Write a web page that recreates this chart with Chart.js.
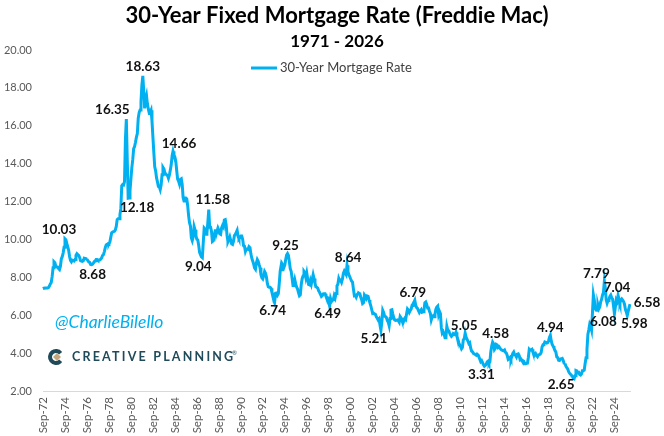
<!DOCTYPE html>
<html>
<head>
<meta charset="utf-8">
<script src="https://cdn.jsdelivr.net/npm/chart.js@4.4.1/dist/chart.umd.min.js"></script>
<style>
  html, body { margin: 0; padding: 0; background: #fff; }
  #wrap { width: 664px; height: 436px; }
</style>
</head>
<body>
<div id="wrap"><canvas id="rateChart" width="664" height="436"></canvas></div>
<script>
// Monthly 30-year fixed rate (%); first value is Sep-72
const startYear = 1972;
const startMonth = 8; // Sep (0-based)

const rates1970s = [
  7.42, 7.43, 7.44, 7.44,
  7.44, 7.44, 7.46, 7.54, 7.65, 7.73, 8.05, 8.50, 8.82, 8.77, 8.58, 8.54,
  8.54, 8.46, 8.41, 8.58, 8.97, 9.09, 9.28, 9.59, 10.03, 9.98, 9.79, 9.62,
  9.43, 9.10, 8.89, 8.82, 8.91, 8.89, 8.86, 8.94, 9.16, 9.25, 9.20, 9.16,
  9.05, 8.88, 8.86, 8.84, 8.87, 9.01, 8.99, 8.98, 8.95, 8.88, 8.81, 8.79,
  8.68, 8.67, 8.69, 8.75, 8.83, 8.86, 8.94, 8.94, 8.90, 8.92, 8.92, 8.96,
  9.02, 9.15, 9.20, 9.36, 9.57, 9.71, 9.74, 9.78, 9.76, 9.86, 10.11, 10.35,
  10.39, 10.41, 10.43, 10.50, 10.69, 11.04, 11.09, 11.09, 11.30, 11.64, 12.83, 12.90
];
const rates1980s = [
  12.88, 13.04, 15.28, 16.35, 14.26, 12.18, 12.19, 12.56, 13.20, 13.79, 14.21, 14.79,
  14.90, 15.13, 15.40, 15.58, 16.40, 16.70, 16.83, 17.28, 18.16, 18.63, 17.83, 16.92,
  17.40, 17.60, 17.16, 16.89, 16.68, 16.70, 16.82, 16.27, 15.43, 14.61, 13.83, 13.62,
  13.25, 13.04, 12.80, 12.78, 12.63, 12.87, 13.42, 13.81, 13.73, 13.54, 13.44, 13.42,
  13.37, 13.23, 13.39, 13.65, 13.94, 14.42, 14.66, 14.47, 14.35, 14.13, 13.64, 13.18,
  13.08, 12.92, 13.17, 13.20, 12.91, 12.22, 12.03, 12.19, 12.19, 12.14, 11.78, 11.26,
  10.88, 10.71, 10.08, 9.94, 10.14, 10.68, 10.51, 10.20, 10.01, 9.98, 9.70, 9.32,
  9.20, 9.08, 9.04, 9.83, 10.60, 10.54, 10.28, 10.33, 10.89, 11.58, 10.65, 10.65,
  10.43, 9.89, 9.93, 10.20, 10.46, 10.46, 10.43, 10.60, 10.48, 10.30, 10.27, 10.61,
  10.73, 10.65, 11.03, 11.05, 10.77, 10.20, 9.88, 9.99, 10.13, 9.95, 9.77, 9.74
];
const rates1990s = [
  9.90, 10.20, 10.27, 10.37, 10.48, 10.16, 10.04, 10.10, 10.18, 10.18, 10.01, 9.67,
  9.64, 9.37, 9.50, 9.49, 9.47, 9.62, 9.58, 9.24, 9.01, 8.86, 8.71, 8.50,
  8.43, 8.76, 8.94, 8.85, 8.67, 8.51, 8.13, 7.98, 7.92, 8.09, 8.31, 8.22,
  8.02, 7.68, 7.50, 7.47, 7.47, 7.42, 7.21, 7.11, 6.92, 6.74, 7.16, 7.17,
  7.06, 7.15, 7.68, 8.32, 8.60, 8.40, 8.61, 8.51, 8.64, 8.93, 9.17, 9.25,
  9.15, 8.83, 8.46, 8.32, 7.96, 7.57, 7.61, 7.86, 7.64, 7.48, 7.38, 7.20,
  7.03, 7.08, 7.62, 7.93, 8.07, 8.32, 8.25, 8.00, 8.23, 7.92, 7.62, 7.60,
  7.82, 7.65, 7.90, 8.14, 7.94, 7.69, 7.50, 7.48, 7.43, 7.29, 7.21, 7.10,
  6.99, 7.04, 7.13, 7.14, 7.14, 7.00, 6.95, 6.92, 6.72, 6.49, 6.87, 6.72,
  6.79, 6.81, 7.04, 6.92, 7.15, 7.55, 7.63, 7.94, 7.82, 7.85, 7.74, 7.91
];
const rates2000s = [
  8.21, 8.33, 8.24, 8.15, 8.64, 8.29, 8.15, 8.03, 7.91, 7.80, 7.75, 7.38,
  7.03, 7.05, 6.95, 7.08, 7.15, 7.16, 7.13, 6.95, 6.82, 6.62, 6.66, 7.07,
  7.00, 6.89, 7.01, 6.99, 6.81, 6.65, 6.49, 6.29, 6.09, 6.11, 6.07, 6.05,
  5.92, 5.84, 5.75, 5.81, 5.48, 5.21, 5.63, 6.26, 6.15, 5.95, 5.93, 5.88,
  5.71, 5.64, 5.45, 5.83, 6.27, 6.29, 6.06, 5.87, 5.75, 5.72, 5.73, 5.75,
  5.71, 5.63, 5.93, 5.86, 5.72, 5.58, 5.70, 5.82, 5.77, 6.07, 6.33, 6.27,
  6.15, 6.25, 6.32, 6.51, 6.60, 6.68, 6.79, 6.52, 6.40, 6.36, 6.24, 6.14,
  6.22, 6.29, 6.16, 6.18, 6.26, 6.66, 6.70, 6.57, 6.38, 6.38, 6.21, 6.10,
  5.76, 5.92, 5.97, 5.92, 6.04, 6.32, 6.43, 6.48, 6.04, 6.20, 6.09, 5.33,
  5.06, 5.13, 5.00, 4.81, 4.86, 5.42, 5.22, 5.19, 5.06, 4.95, 4.88, 4.93
];
const rates2010s = [
  5.03, 4.99, 4.97, 5.10, 4.89, 4.74, 4.56, 4.43, 4.35, 4.23, 4.30, 4.71,
  4.76, 5.05, 4.84, 4.84, 4.64, 4.51, 4.55, 4.27, 4.11, 4.07, 3.99, 3.96,
  3.92, 3.89, 3.95, 3.91, 3.80, 3.68, 3.55, 3.60, 3.50, 3.38, 3.31, 3.35,
  3.41, 3.53, 3.57, 3.45, 3.54, 4.07, 4.37, 4.58, 4.49, 4.19, 4.26, 4.46,
  4.43, 4.30, 4.34, 4.34, 4.19, 4.16, 4.13, 4.12, 4.16, 4.04, 4.00, 3.86,
  3.67, 3.71, 3.77, 3.67, 3.84, 3.98, 4.05, 3.91, 3.89, 3.80, 3.94, 3.96,
  3.87, 3.66, 3.69, 3.61, 3.60, 3.57, 3.44, 3.44, 3.46, 3.47, 3.77, 4.20,
  4.15, 4.17, 4.20, 4.05, 4.01, 3.90, 3.97, 3.88, 3.81, 3.90, 3.92, 3.95,
  4.03, 4.33, 4.44, 4.47, 4.59, 4.57, 4.53, 4.55, 4.63, 4.83, 4.94, 4.64,
  4.46, 4.37, 4.27, 4.14, 4.07, 3.80, 3.77, 3.62, 3.61, 3.69, 3.70, 3.72
];
const rates2020s = [
  3.62, 3.47, 3.45, 3.31, 3.23, 3.16, 3.02, 2.94, 2.89, 2.83, 2.77, 2.68,
  2.65, 2.81, 3.08, 3.06, 2.96, 2.98, 2.87, 2.84, 2.90, 3.07, 3.07, 3.10,
  3.45, 3.76, 4.17, 4.98, 5.23, 5.52, 5.41, 5.22, 6.11, 7.08, 6.81, 6.36,
  6.27, 6.26, 6.54, 6.34, 6.43, 6.71, 6.84, 7.07, 7.20, 7.79, 7.44, 6.82,
  6.64, 6.78, 6.82, 6.99, 7.06, 6.92, 6.85, 6.50, 6.08, 6.43, 6.81, 6.72,
  7.04, 6.85, 6.65, 6.80, 6.86, 6.80, 6.72, 6.58, 6.30, 6.17, 5.98, 6.20,
  6.40, 6.58
];

const rates = [].concat(rates1970s, rates1980s, rates1990s, rates2000s, rates2010s, rates2020s);

const tickLabels = ['Sep-72', 'Sep-74', 'Sep-76', 'Sep-78', 'Sep-80', 'Sep-82', 'Sep-84',
  'Sep-86', 'Sep-88', 'Sep-90', 'Sep-92', 'Sep-94', 'Sep-96', 'Sep-98', 'Sep-00', 'Sep-02',
  'Sep-04', 'Sep-06', 'Sep-08', 'Sep-10', 'Sep-12', 'Sep-14', 'Sep-16', 'Sep-18', 'Sep-20',
  'Sep-22', 'Sep-24'];

// highs and lows that carry a value label
const calloutDates = ['Sep-74', 'Jan-77', 'Apr-80', 'Jun-80', 'Oct-81', 'Jul-84', 'Mar-87',
  'Oct-87', 'Oct-93', 'Dec-94', 'Oct-98', 'May-00', 'Jun-03', 'Jul-06', 'Feb-11', 'Nov-12',
  'Aug-13', 'Nov-18', 'Jan-21', 'Oct-23', 'Sep-24', 'Jan-25', 'Nov-25', 'Feb-26'];
// label offset from its point, px
const calloutOffsets = [[-6, -9], [2, 10], [-14, -10], [9, 9], [0, -9], [6, -8], [-4, 9],
  [4, -10], [-2, 9], [-2, -8], [-2, 8], [1, -8], [-7, 8], [-2, -8], [-1, -8], [-3, 8],
  [3, -8], [0, -8], [-13, 6], [-8, -8], [-11, 8], [-1, -8], [7, 8], [17, -2]];

const titleText = '30-Year Fixed Mortgage Rate (Freddie Mac)';
const subtitleText = '1971 - 2026';
const seriesName = '30-Year Mortgage Rate';
const lineColor = '#00B0F0';
const fontFamily = 'Lato, "Open Sans", sans-serif';

const monthNames = ['Jan', 'Feb', 'Mar', 'Apr', 'May', 'Jun', 'Jul', 'Aug', 'Sep', 'Oct', 'Nov', 'Dec'];
const categories = rates.map((_, i) => {
  const m = startMonth + i;
  const yr = startYear + Math.floor(m / 12);
  return monthNames[m % 12] + '-' + String(yr).slice(2);
});

// title, legend, handle and logo
const headerPlugin = {
  id: 'header',
  afterDraw(chart) {
    const ctx = chart.ctx;
    ctx.save();
    ctx.textBaseline = 'middle';
    ctx.textAlign = 'center';
    ctx.fillStyle = '#000';
    ctx.font = `bold 22px ${fontFamily}`;
    ctx.fillText(titleText, 337, 16);
    ctx.font = `bold 17px ${fontFamily}`;
    ctx.fillText(subtitleText, 337, 42);

    ctx.strokeStyle = lineColor;
    ctx.lineWidth = 3;
    ctx.beginPath();
    ctx.moveTo(251, 68);
    ctx.lineTo(277, 68);
    ctx.stroke();
    ctx.textAlign = 'left';
    ctx.fillStyle = '#404040';
    ctx.font = `13px ${fontFamily}`;
    ctx.fillText(seriesName, 280, 68);

    ctx.fillStyle = lineColor;
    ctx.font = `italic 17.5px ${fontFamily}`;
    ctx.fillText('@CharlieBilello', 55, 322);

    // Creative Planning mark
    ctx.strokeStyle = '#1f4a5a';
    ctx.lineWidth = 4;
    ctx.beginPath();
    ctx.arc(56, 357, 6, -0.22 * Math.PI, 0.22 * Math.PI, true);
    ctx.stroke();
    ctx.fillStyle = '#c4a77d';
    ctx.beginPath();
    ctx.moveTo(57, 353);
    ctx.lineTo(61, 357);
    ctx.lineTo(57, 361);
    ctx.lineTo(53, 357);
    ctx.closePath();
    ctx.fill();

    ctx.fillStyle = '#1f4a5a';
    ctx.font = `bold 12.5px ${fontFamily}`;
    ctx.letterSpacing = '2.2px';
    ctx.fillText('CREATIVE PLANNING', 72, 357);
    ctx.letterSpacing = '0px';
    ctx.font = `6px ${fontFamily}`;
    ctx.fillText('®', 232, 353);
    ctx.restore();
  }
};

const calloutPlugin = {
  id: 'callouts',
  afterDatasetsDraw(chart) {
    const ctx = chart.ctx;
    const xs = chart.scales.x;
    const ys = chart.scales.y;
    ctx.save();
    ctx.font = `bold 13.5px ${fontFamily}`;
    ctx.fillStyle = '#111';
    ctx.textAlign = 'center';
    ctx.textBaseline = 'middle';
    calloutDates.forEach((d, k) => {
      const i = categories.indexOf(d);
      if (i < 0) return;
      const x = xs.getPixelForValue(i) + calloutOffsets[k][0];
      const y = ys.getPixelForValue(rates[i]) + calloutOffsets[k][1];
      ctx.fillText(rates[i].toFixed(2), x, y);
    });
    ctx.restore();
  }
};

Chart.defaults.font.family = fontFamily;

const ctx = document.getElementById('rateChart').getContext('2d');
const rateChart = new Chart(ctx, {
  type: 'line',
  data: {
    labels: categories,
    datasets: [{
      label: seriesName,
      data: rates,
      borderColor: lineColor,
      borderWidth: 3,
      pointRadius: 0,
      tension: 0,
      fill: false
    }]
  },
  options: {
    responsive: false,
    animation: false,
    layout: { padding: { top: 50, right: 34, bottom: 0, left: 0 } },
    plugins: {
      legend: { display: false },
      tooltip: { enabled: false }
    },
    scales: {
      x: {
        grid: { display: false, drawTicks: false },
        border: { display: true, color: '#d9d9d9', width: 1 },
        ticks: {
          autoSkip: false,
          minRotation: 90,
          maxRotation: 90,
          padding: 6,
          color: '#595959',
          font: { size: 11.5 },
          callback: function (value) {
            const lab = this.getLabelForValue(value);
            return tickLabels.includes(lab) ? lab : '';
          }
        },
        afterFit(scale) { scale.height = 45; }
      },
      y: {
        min: 2,
        max: 20,
        grid: { display: false, drawTicks: false },
        border: { display: false },
        ticks: {
          stepSize: 2,
          padding: 11,
          color: '#595959',
          font: { size: 11 },
          callback: v => v.toFixed(2)
        },
        afterFit(scale) { scale.width = 43; }
      }
    }
  },
  plugins: [calloutPlugin, headerPlugin]
});
</script>
</body>
</html>
